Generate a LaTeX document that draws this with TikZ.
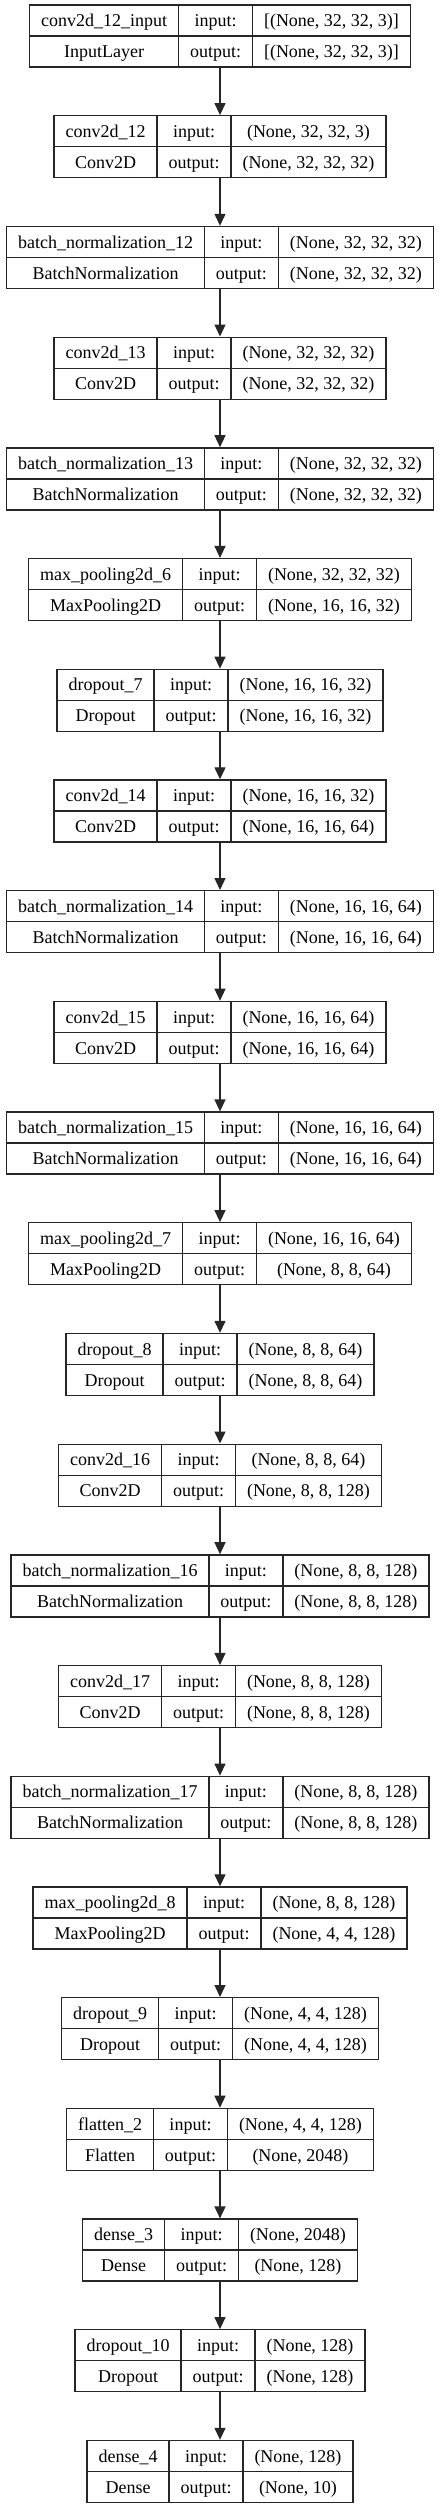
\documentclass[tikz,border=0pt]{standalone}
\usepackage{fontspec}
\setmainfont{Liberation Serif}
\usetikzlibrary{arrows.meta,positioning}

\newcommand\lf{\fontsize{18pt}{21pt}\selectfont}
% show #1, as wide as the wider of #1 and #2
\newcommand\cellof[2]{\ooalign{\hfil#1\hfil\cr\hfil\phantom{#2}\hfil\cr}}

% one layer box: index, name, class, input shape, output shape
\newcommand\layerbox[5]{%
    \pgfmathsetmacro\yt{4.4+110.7*#1}%
    \matrix[layer, ampersand replacement=\&] (L#1) at (220,\yt) {
        \node[cell] (L#1-n) {\cellof{#2}{#3}}; \&
        \node[cell] (L#1-i) {\cellof{input:}{output:}}; \&
        \node[cell] (L#1-is) {\cellof{#4}{#5}}; \\
        \node[cell] (L#1-c) {\cellof{#3}{#2}}; \&
        \node[cell] (L#1-o) {\cellof{output:}{input:}}; \&
        \node[cell] (L#1-os) {\cellof{#5}{#4}}; \\
    };
}

\begin{document}
\begin{tikzpicture}[x=1pt, y=-1pt,
        cell/.style={draw=black!85, line width=1.3pt, font=\lf, inner xsep=11.5pt, inner ysep=0pt,
                     outer sep=0pt, minimum height=31pt, text height=15pt, text depth=2.6pt},
        layer/.style={anchor=north, inner sep=0pt, outer sep=0pt, column sep=-1.3pt, row sep=-1.3pt},
        flow/.style={draw=black!85, line width=1.3pt, -{Triangle[length=12pt, width=11pt]}}]
    \fill[white] (0,0) rectangle (440,2508);
    \useasboundingbox (0,0) rectangle (440,2508);

    \foreach \nm/\cl/\ish/\osh [count=\i from 0] in {
        {conv2d\_12\_input}/{InputLayer}/{[(None, 32, 32, 3)]}/{[(None, 32, 32, 3)]},
        {conv2d\_12}/{Conv2D}/{(None, 32, 32, 3)}/{(None, 32, 32, 32)},
        {batch\_normalization\_12}/{BatchNormalization}/{(None, 32, 32, 32)}/{(None, 32, 32, 32)},
        {conv2d\_13}/{Conv2D}/{(None, 32, 32, 32)}/{(None, 32, 32, 32)},
        {batch\_normalization\_13}/{BatchNormalization}/{(None, 32, 32, 32)}/{(None, 32, 32, 32)},
        {max\_pooling2d\_6}/{MaxPooling2D}/{(None, 32, 32, 32)}/{(None, 16, 16, 32)},
        {dropout\_7}/{Dropout}/{(None, 16, 16, 32)}/{(None, 16, 16, 32)},
        {conv2d\_14}/{Conv2D}/{(None, 16, 16, 32)}/{(None, 16, 16, 64)},
        {batch\_normalization\_14}/{BatchNormalization}/{(None, 16, 16, 64)}/{(None, 16, 16, 64)},
        {conv2d\_15}/{Conv2D}/{(None, 16, 16, 64)}/{(None, 16, 16, 64)},
        {batch\_normalization\_15}/{BatchNormalization}/{(None, 16, 16, 64)}/{(None, 16, 16, 64)},
        {max\_pooling2d\_7}/{MaxPooling2D}/{(None, 16, 16, 64)}/{(None, 8, 8, 64)},
        {dropout\_8}/{Dropout}/{(None, 8, 8, 64)}/{(None, 8, 8, 64)},
        {conv2d\_16}/{Conv2D}/{(None, 8, 8, 64)}/{(None, 8, 8, 128)},
        {batch\_normalization\_16}/{BatchNormalization}/{(None, 8, 8, 128)}/{(None, 8, 8, 128)},
        {conv2d\_17}/{Conv2D}/{(None, 8, 8, 128)}/{(None, 8, 8, 128)},
        {batch\_normalization\_17}/{BatchNormalization}/{(None, 8, 8, 128)}/{(None, 8, 8, 128)},
        {max\_pooling2d\_8}/{MaxPooling2D}/{(None, 8, 8, 128)}/{(None, 4, 4, 128)},
        {dropout\_9}/{Dropout}/{(None, 4, 4, 128)}/{(None, 4, 4, 128)},
        {flatten\_2}/{Flatten}/{(None, 4, 4, 128)}/{(None, 2048)},
        {dense\_3}/{Dense}/{(None, 2048)}/{(None, 128)},
        {dropout\_10}/{Dropout}/{(None, 128)}/{(None, 128)},
        {dense\_4}/{Dense}/{(None, 128)}/{(None, 10)}%
    }{\layerbox{\i}{\nm}{\cl}{\ish}{\osh}}

    % connectors
    \foreach \i [evaluate=\i as \j using int(\i+1)] in {0,...,21}
        \draw[flow] (L\i) -- (L\j);
\end{tikzpicture}
\end{document}
